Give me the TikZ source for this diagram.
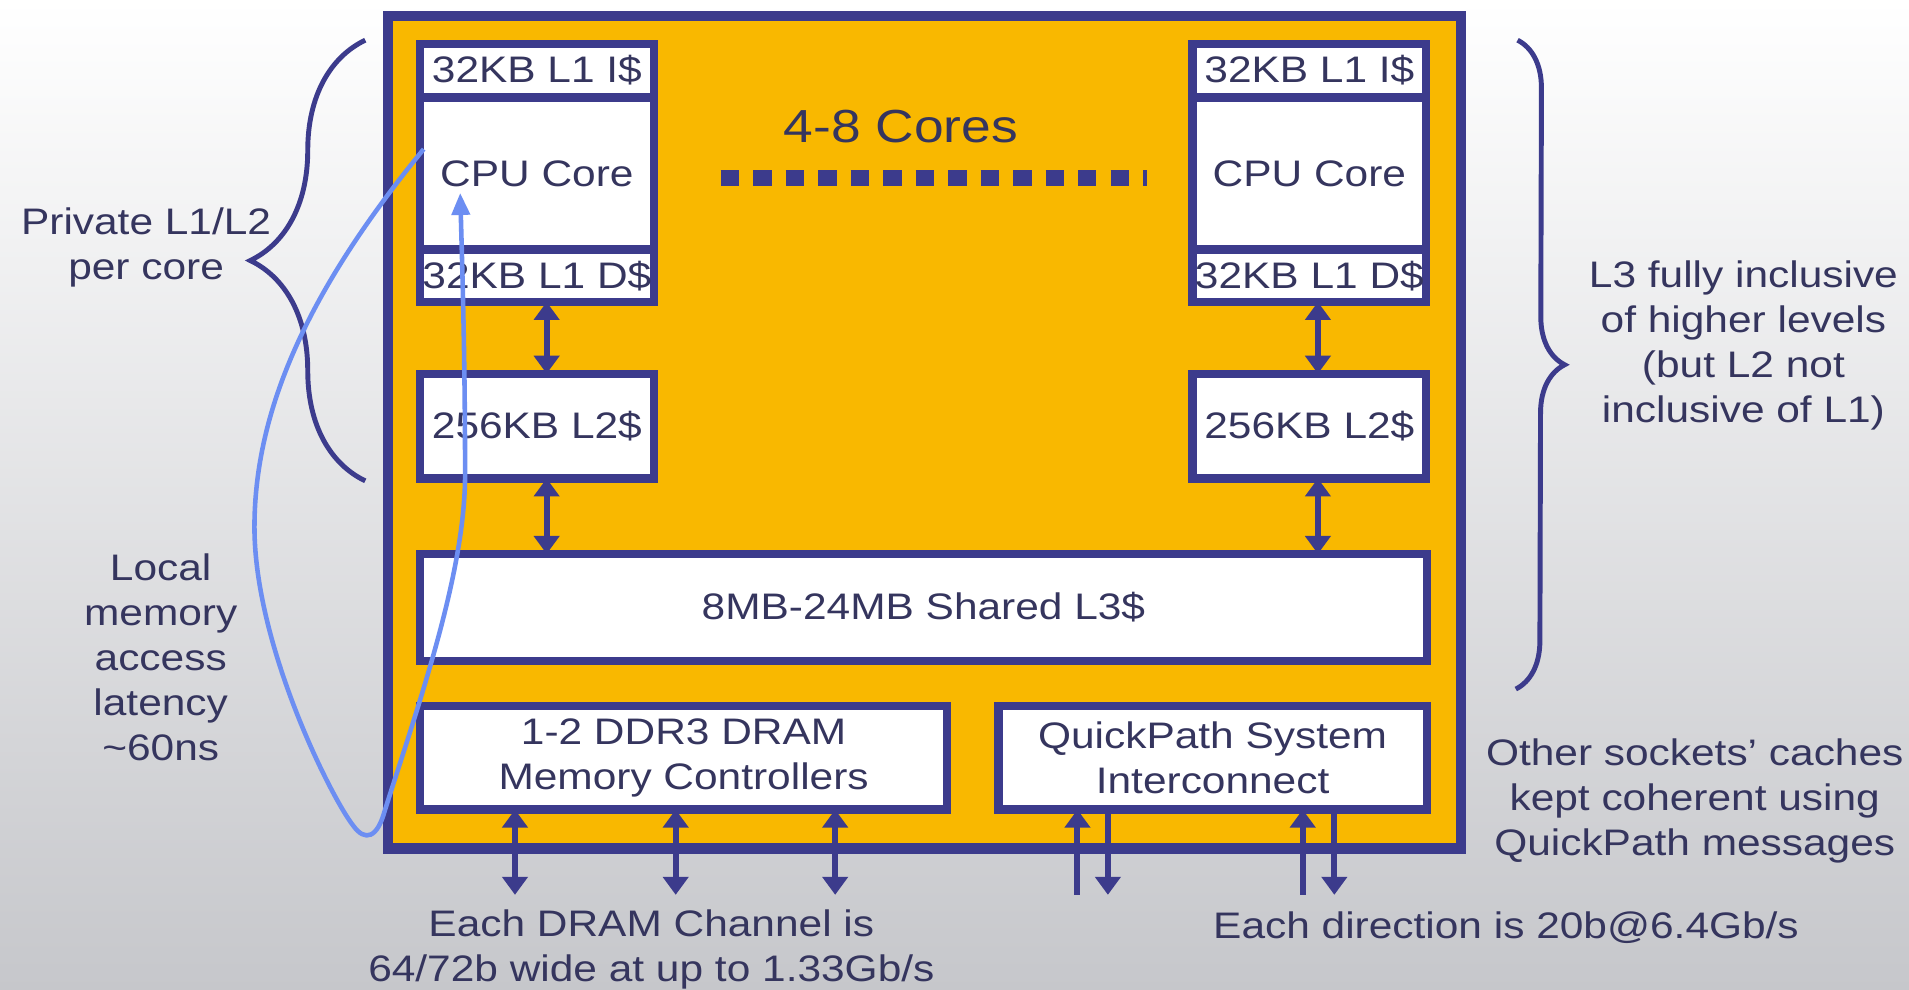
\documentclass[tikz,border=0pt]{standalone}
\usepackage{fontspec}
\setmainfont[FakeStretch=1.15]{Liberation Sans}
\usetikzlibrary{arrows.meta, positioning, calc, decorations.pathreplacing}
\definecolor{chipfill}{HTML}{F9B800}
\definecolor{navy}{HTML}{3C3B8C}
\definecolor{inktext}{HTML}{35355E}
\definecolor{pathblue}{HTML}{6C8EF2}
\definecolor{bgbot}{HTML}{C6C7CB}
\def\pxu{0.012175cm}
\tikzset{
  box/.style={rectangle, draw=navy, fill=white, line width=2.4pt, outer sep=0pt,
              inner sep=0pt, align=center, text=inktext,
              font=\fontsize{10.5}{12.8}\selectfont},
  cachebox/.style={box, minimum width=192*\pxu},
  chipbox/.style={rectangle, draw=navy, fill=chipfill, line width=2.9pt, outer sep=0pt,
                  minimum width=881*\pxu, minimum height=684*\pxu},
  note/.style={font=\fontsize{10.5}{12.8}\selectfont, text=inktext, align=center},
  bus/.style={{Triangle[length=1.8mm, width=2.5mm]}-{Triangle[length=1.8mm, width=2.5mm]},
              line width=1.7pt, draw=navy},
  wire/.style={-{Triangle[length=1.8mm, width=2.5mm]}, line width=1.7pt, draw=navy},
  curly/.style={decorate, line width=1.4pt, draw=navy},
  latency/.style={-{Triangle[length=2.2mm, width=1.8mm]}, line width=1.3pt, draw=pathblue},
}

\begin{document}
\begin{tikzpicture}[x=\pxu, y=-\pxu]

% Backdrop
\shade[top color=white, bottom color=bgbot] (0,0) rectangle (1568,813);

% Processor die
\node[chipbox] (chip) at (759.5,355) {};

% Left core with its private caches
\node[cachebox, minimum height=44*\pxu] (l1iL) at (441,58) {32KB L1 I\$};
\node[cachebox, minimum height=125*\pxu, below=0pt of l1iL] (cpuL) {CPU Core};
\node[cachebox, minimum height=43*\pxu, below=0pt of cpuL] (l1dL) {32KB L1 D\$};
\node[cachebox, minimum height=86*\pxu, below=0.718cm of l1dL] (l2L) {256KB L2\$};

% Right core with its private caches
\node[cachebox, minimum height=44*\pxu] (l1iR) at (1075.5,58) {32KB L1 I\$};
\node[cachebox, minimum height=125*\pxu, below=0pt of l1iR] (cpuR) {CPU Core};
\node[cachebox, minimum height=43*\pxu, below=0pt of cpuR] (l1dR) {32KB L1 D\$};
\node[cachebox, minimum height=86*\pxu, below=0.718cm of l1dR] (l2R) {256KB L2\$};

% Shared parts
\node[box, minimum width=827*\pxu, minimum height=88*\pxu] (l3) at (758.5,499) {8MB-24MB Shared L3\$};
\node[box, minimum width=433*\pxu, minimum height=85*\pxu] (dram) at (561.5,622.5)
  {1-2 DDR3 DRAM\\Memory Controllers};
\node[box, minimum width=352*\pxu, minimum height=85*\pxu] (qpi) at (996,622.5)
  {QuickPath System\\Interconnect};

\node[note, font=\fontsize{13.2}{16}\selectfont] (cores) at (740,104) {4-8 Cores};

% Free ends of the off-chip links
\coordinate (ch1) at (423,735);
\coordinate (ch2) at (555,735);
\coordinate (ch3) at (686,735);
\coordinate (qa) at (885,735);
\coordinate (qb) at (910,735);
\coordinate (qc) at (1070,735);
\coordinate (qd) at (1096,735);

% Cache links
\draw[bus] ([xshift=8*\pxu]l1dL.south) -- ([xshift=8*\pxu]l2L.north);
\draw[bus] ([xshift=8*\pxu]l2L.south) -- ([xshift=8*\pxu]l2L.south |- l3.north);
\draw[bus] ([xshift=7*\pxu]l1dR.south) -- ([xshift=7*\pxu]l2R.north);
\draw[bus] ([xshift=7*\pxu]l2R.south) -- ([xshift=7*\pxu]l2R.south |- l3.north);

% DRAM channels
\draw[bus] (ch1 |- dram.south) -- (ch1);
\draw[bus] (ch2 |- dram.south) -- (ch2);
\draw[bus] (ch3 |- dram.south) -- (ch3);

% QuickPath links
\draw[wire] (qa) -- (qa |- qpi.south);
\draw[wire] (qb |- qpi.south) -- (qb);
\draw[wire] (qc) -- (qc |- qpi.south);
\draw[wire] (qd |- qpi.south) -- (qd);

% More cores in between
\draw[navy, line width=4.5pt, dash pattern=on 0.183cm off 0.142cm]
  ([xshift=55*\pxu, yshift=-3.5*\pxu]cpuL.east) -- ([xshift=-37*\pxu, yshift=-3.5*\pxu]cpuR.west);

% Braces
\draw[curly, decoration={brace, amplitude=1.15cm}]
  ($(l2L.south west)+(-45,2)$) -- ($(l1iL.north west)+(-45,-3)$);
\draw[curly, decoration={brace, amplitude=0.48cm}]
  ($(l1iR.north east)+(75,-3)$) -- ($(l3.south east)+(73,23)$);

% Notes
\node[note] (privnote) at (120,203) {Private L1/L2\\per core};
\node[note] (inclnote) at (1432,284) {L3 fully inclusive\\of higher levels\\(but L2 not\\inclusive of L1)};
\node[note] (latnote) at (132,540) {Local\\memory\\access\\latency\\\textasciitilde60ns};
\node[note] (cohnote) at (1392,658) {Other sockets' caches\\kept coherent using\\QuickPath messages};
\node[note] (dramnote) at (535,780) {Each DRAM Channel is\\64/72b wide at up to 1.33Gb/s};
\node[note] (qpinote) at (1237,762) {Each direction is 20b@6.4Gb/s};

% Round trip to memory
\draw[latency] ($(cpuL.west)+(3,-20)$) .. controls (260,230) and (209,330) .. (209,433)
  .. controls (209,530) and (272,655) .. (290,678)
  .. controls (300,692) and (310,688) .. (316,666)
  .. controls (345,575) and (382,470) .. (382,390)
  .. controls (382,300) and (380,230) .. ($(cpuL.center)+(-63,16)$);

\pgfresetboundingbox
\useasboundingbox (0,0) rectangle (1568,813);
\end{tikzpicture}
\end{document}
